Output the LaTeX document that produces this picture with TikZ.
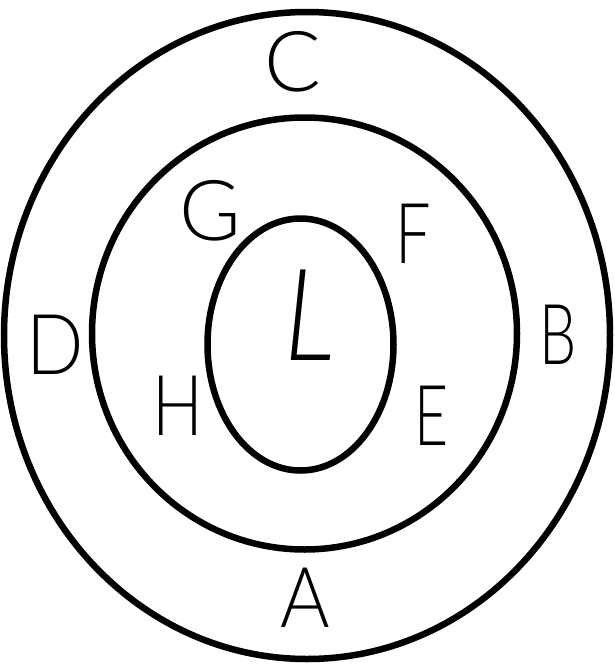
\documentclass[tikz,border=0pt]{standalone}
\usepackage{fontspec}
\setmainfont{Lato Light}
\begin{document}
\begin{tikzpicture}[x=1pt,y=-1pt,
  ring/.style={draw=black,line width=6.5pt},
  lab/.style={font=\fontsize{84}{84}\selectfont,inner sep=0pt,anchor=center}]
\useasboundingbox (0,0) rectangle (615,665);
\fill[white] (0,0) rectangle (615,665);
\draw[ring] (307,335.5) ellipse [x radius=303, y radius=323.5];
\draw[ring] (304.5,333.5) ellipse [x radius=212.5, y radius=216];
\draw[ring] (300.5,344.5) ellipse [x radius=93, y radius=126];
\node[lab] (c) at (293,62) {C};
\node[lab,xscale=0.9] (d) at (55,345) {D};
\node[lab,xscale=0.7] (b) at (558,335) {B};
\node[lab,xscale=0.9] (a) at (305,598) {A};
\node[lab] (g) at (210,211) {G};
\node[lab,xscale=0.75] (f) at (413,234) {F};
\node[lab,xscale=0.8] (h) at (178,406) {H};
\node[lab,xscale=0.7] (e) at (432,416) {E};
\node[lab,font=\fontsize{128}{128}\selectfont\itshape,xscale=0.85] (l) at (310,315) {L};
\end{tikzpicture}
\end{document}
